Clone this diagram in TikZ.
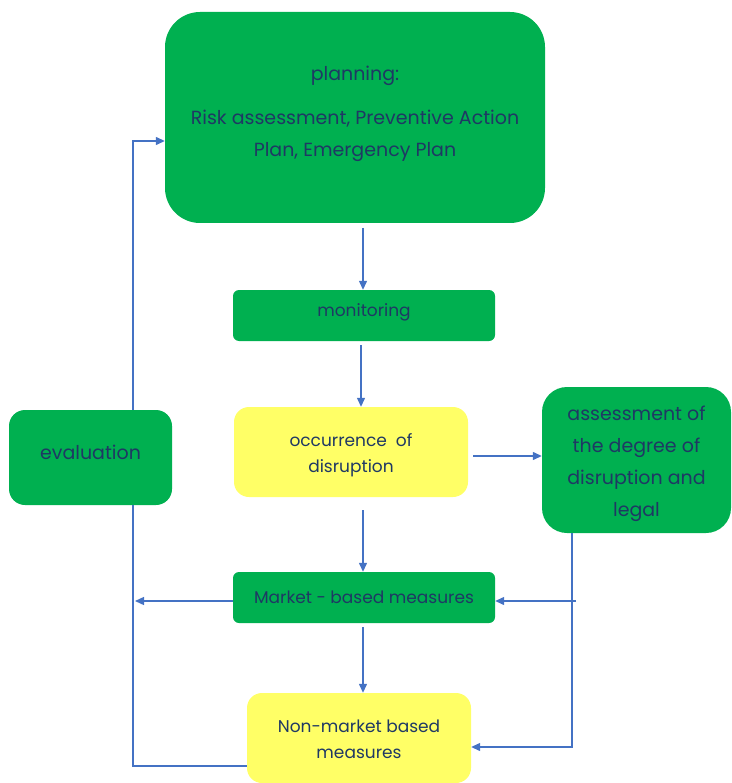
\documentclass[tikz,border=0pt]{standalone}
\usepackage{fontspec}
\setmainfont{Poppins}
\usetikzlibrary{arrows.meta}
\definecolor{boxgreen}{HTML}{00B050}
\definecolor{boxyellow}{HTML}{FFFF66}
\definecolor{inkblue}{HTML}{1F3864}
\definecolor{linkblue}{HTML}{4472C4}

\begin{document}
\begin{tikzpicture}[x=1pt,y=-1pt,
  box/.style={rectangle, draw=none, inner sep=0pt},
  greenbox/.style={box, fill=boxgreen},
  yellowbox/.style={box, fill=boxyellow},
  caption/.style={inner sep=0pt, align=center, text=inkblue},
  bigtext/.style={caption, font=\fontsize{19}{32}\selectfont},
  midtext/.style={caption, font=\fontsize{17}{26}\selectfont},
  wire/.style={draw=linkblue, line width=1.3pt},
  link/.style={wire, -{Triangle[length=9pt,width=8pt]}}]
\useasboundingbox (0,0) rectangle (731,783);

% boxes
\node[greenbox, minimum width=380pt, minimum height=211pt, rounded corners=35pt]
  (planning) at (355,117.5) {};
\node[greenbox, minimum width=262pt, minimum height=51pt, rounded corners=6pt]
  (monitoring) at (364,315.5) {};
\node[yellowbox, minimum width=234pt, minimum height=90pt, rounded corners=15pt]
  (occurrence) at (351,452) {};
\node[greenbox, minimum width=189pt, minimum height=146pt, rounded corners=25pt]
  (assessment) at (636.5,460) {};
\node[greenbox, minimum width=163pt, minimum height=95pt, rounded corners=16pt]
  (evaluation) at (90.5,457.5) {};
\node[greenbox, minimum width=262pt, minimum height=51pt, rounded corners=6pt]
  (market) at (364,597.5) {};
\node[yellowbox, minimum width=224pt, minimum height=90pt, rounded corners=15pt]
  (nonmarket) at (359,738) {};

% box texts
\node[bigtext] (planningtext) at ([yshift=4pt]planning.center)
  {planning:\\[12pt]Risk assessment, Preventive Action\\Plan, Emergency Plan};
\node[midtext] (monitoringtext) at ([yshift=3pt]monitoring.center) {monitoring};
\node[midtext] (occurrencetext) at ([yshift=-3pt]occurrence.center) {occurrence~ of\\disruption};
\node[bigtext] (assessmenttext) at ([yshift=-4pt]assessment.center)
  {assessment of\\the degree of\\disruption and\\legal};
\node[bigtext] (evaluationtext) at ([yshift=5pt]evaluation.center) {evaluation};
\node[midtext] (markettext) at (market.center) {Market - based measures};
\node[midtext] (nonmarkettext) at ([yshift=-1pt]nonmarket.center) {Non-market based\\measures};

% connector anchors
\coordinate (c1) at (363,228);
\coordinate (c2) at (361,345);
\coordinate (c3) at (473,456);
\coordinate (c4) at (363,510);
\coordinate (c5) at (363,627);
\coordinate (cm) at (363,601);
\coordinate (lb) at (133,766);
\coordinate (lt) at (133,141);
\coordinate (rb) at (572,747);

% main flow
\draw[link] (c1) -- (c1 |- monitoring.north);
\draw[link] (c2) -- (c2 |- occurrence.north);
\draw[link] (c3) -- (c3 -| assessment.west);
\draw[link] (c4) -- (c4 |- market.north);
\draw[link] (c5) -- (c5 |- nonmarket.north);

% feedback loop on the left
\draw[wire] (nonmarket.west |- lb) -- (lb) -- (lb |- evaluation.south);
\draw[link] (lb |- evaluation.north) -- (lt) -- (lt -| planning.west);
\draw[link] (cm -| market.west) -- ([xshift=2pt]cm -| lb);

% legal assessment feeding both measures
\draw[link] (rb |- assessment.south) -- (rb) -- (rb -| nonmarket.east);
\draw[link] ([xshift=4pt]cm -| rb) -- (cm -| market.east);
\end{tikzpicture}
\end{document}
